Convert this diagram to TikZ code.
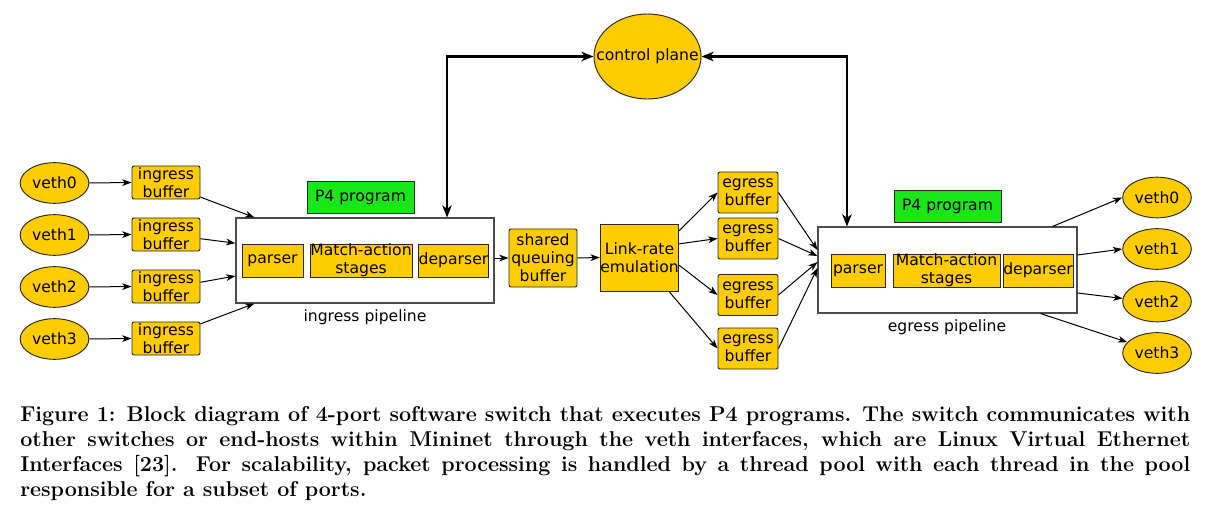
\documentclass[tikz,border=0pt]{standalone}
\usepackage{fontspec}
\newfontfamily\dejavu{DejaVu Sans}
\usepackage{tikz}
\usetikzlibrary{positioning}
\usetikzlibrary{shapes.geometric}
\usetikzlibrary{arrows.meta}
\definecolor{boxyellow}{RGB}{255,204,0}
\definecolor{progreen}{RGB}{24,232,24}
\tikzset{
  portnode/.style={ellipse,draw=black!85,fill=boxyellow,line width=0.7pt,minimum width=51.5pt,minimum height=30.5pt,inner sep=0pt},
  bufbox/.style={rectangle,rounded corners=1.5pt,draw=black!85,fill=boxyellow,line width=0.7pt,inner sep=0pt,align=center},
  stagebox/.style={rectangle,draw=black!85,fill=boxyellow,line width=0.7pt,inner sep=0pt,align=center,minimum height=24.75pt},
  progbox/.style={rectangle,draw=black!85,fill=progreen,line width=0.7pt,minimum width=80.25pt,minimum height=24pt,inner sep=0pt},
  pipebox/.style={rectangle,draw=black!70,fill=white,line width=0.8pt},
  flowarrow/.style={->,line width=0.75pt},
  ctrlarrow/.style={{Stealth[length=9pt,width=7pt,inset=2.5pt]}-{Stealth[length=9pt,width=7pt,inset=2.5pt]},line width=1.8pt}
}

\begin{document}
\begin{tikzpicture}[x=0.75pt,y=-0.75pt,font=\dejavu\fontsize{11.7}{13.4}\selectfont,>={Stealth[length=7pt,width=5pt,inset=2pt]}]
	\useasboundingbox (0,0) rectangle (1223,513);
	% control plane
	\node[portnode,minimum width=80.25pt,minimum height=63.75pt] (cp) at (647.5,56.5) {\makebox[0pt]{control plane}};
	% ingress ports and buffers
	\node[portnode] (vin0) at (54.5,183) {veth0};
	\node[portnode] (vin1) at (54.5,235) {veth1};
	\node[portnode] (vin2) at (54.5,287) {veth2};
	\node[portnode] (vin3) at (54.5,339) {veth3};
	\node[bufbox,minimum width=51pt,minimum height=24.75pt] (ib0) at (166,182.5) {ingress\\buffer};
	\node[bufbox,minimum width=51pt,minimum height=24.75pt] (ib1) at (166,234.5) {ingress\\buffer};
	\node[bufbox,minimum width=51pt,minimum height=24.75pt] (ib2) at (166,286.5) {ingress\\buffer};
	\node[bufbox,minimum width=51pt,minimum height=24.75pt] (ib3) at (166,338.5) {ingress\\buffer};
	\draw[flowarrow] (vin0.east)--(ib0.west);
	\draw[flowarrow] (vin1.east)--(ib1.west);
	\draw[flowarrow] (vin2.east)--(ib2.west);
	\draw[flowarrow] (vin3.east)--(ib3.west);
	% ingress pipeline
	\node[pipebox,minimum width=193.5pt,minimum height=63.75pt] (ing) at (365,260.5) {};
	\node[progbox] (p4in) at (360.5,197) {P4 program};
	\node[stagebox,minimum width=45.75pt] (inpar) at (272.5,260.5) {parser};
	\node[stagebox,minimum width=76.5pt] (inmat) at (361,260.5) {Match-action\\stages};
	\node[stagebox,minimum width=51.75pt] (indep) at (453.5,260.5) {deparser};
	\node (inlab) at (365,317) {ingress pipeline};
	\draw[flowarrow] (ib0.-23)--([xshift=14.25pt]ing.north west);
	\draw[flowarrow] (ib1.-7.5)--([yshift=13pt]ing.west);
	\draw[flowarrow] (ib2.7.5)--([yshift=-11.6pt]ing.west);
	\draw[flowarrow] (ib3.23)--([xshift=14.25pt]ing.south west);
	% queue and link rate
	\node[bufbox,minimum width=51pt,minimum height=43.5pt] (sq) at (543,258) {shared\\queuing\\buffer};
	\node[stagebox,minimum width=57.75pt,minimum height=50.25pt] (lr) at (639.5,257.5) {Link-rate\\emulation};
	\draw[flowarrow] (ing.east |- sq.west)--(sq.west);
	\draw[flowarrow] (sq.east)--(lr.west);
	% egress buffers
	\node[bufbox,minimum width=45pt,minimum height=30.75pt] (eb0) at (748,192.5) {egress\\buffer};
	\node[bufbox,minimum width=45pt,minimum height=30.75pt] (eb1) at (748,238.5) {egress\\buffer};
	\node[bufbox,minimum width=45pt,minimum height=30.75pt] (eb2) at (748,295) {egress\\buffer};
	\node[bufbox,minimum width=45pt,minimum height=30.75pt] (eb3) at (748,348.5) {egress\\buffer};
	\draw[flowarrow] (lr.34.5)--(eb0.west);
	\draw[flowarrow] (lr.19.3)--(eb1.west);
	\draw[flowarrow] (lr.-11)--(eb2.west);
	\draw[flowarrow] (lr.-49.6)--(eb3.west);
	% egress pipeline
	\node[pipebox,minimum width=194.25pt,minimum height=64.5pt] (eg) at (947.5,270) {};
	\node[progbox] (p4eg) at (947.5,206) {P4 program};
	\node[stagebox,minimum width=40.5pt] (egpar) at (858,270.5) {parser};
	\node[stagebox,minimum width=80.25pt] (egmat) at (946.5,270.5) {Match-action\\stages};
	\node[stagebox,minimum width=52.5pt] (egdep) at (1038,270.5) {deparser};
	\node (eglab) at (947,327) {egress pipeline};
	\draw[flowarrow] (eb0.east)--([yshift=15pt]eg.west);
	\draw[flowarrow] (eb1.east)--([yshift=10.5pt]eg.west);
	\draw[flowarrow] (eb2.east)--([yshift=6pt]eg.west);
	\draw[flowarrow] (eb3.east)--([yshift=1.5pt]eg.west);
	% egress ports
	\node[portnode] (vout0) at (1157,197.5) {veth0};
	\node[portnode] (vout1) at (1157,249) {veth1};
	\node[portnode] (vout2) at (1157,301.5) {veth2};
	\node[portnode] (vout3) at (1157,353) {veth3};
	\draw[flowarrow] ([xshift=-18.75pt]eg.north east)--(vout0.west);
	\draw[flowarrow] ([yshift=11.25pt]eg.east)--(vout1.west);
	\draw[flowarrow] ([yshift=-17.25pt]eg.east)--(vout2.175);
	\draw[flowarrow] ([xshift=-27.75pt]eg.south east)--(vout3.160);
	% control plane links
	\draw[ctrlarrow] (cp.west) -| ([xshift=61.5pt]ing.north);
	\draw[ctrlarrow] (cp.east) -| ([xshift=-75.4pt]eg.north);
	% caption
	\node[anchor=north west,inner sep=0pt,text width=877.5pt,align=justify,font=\rmfamily\fontsize{16.1}{18.75}\selectfont\bfseries] (cap) at (20,406) {Figure 1: Block diagram of 4-port software switch that executes P4 programs. The switch communicates with\linebreak other switches or end-hosts within Mininet through the veth interfaces, which are Linux Virtual Ethernet\linebreak Interfaces [23]. For scalability, packet processing is handled by a thread pool with each thread in the pool\linebreak responsible for a subset of ports.};
\end{tikzpicture}
\end{document}
